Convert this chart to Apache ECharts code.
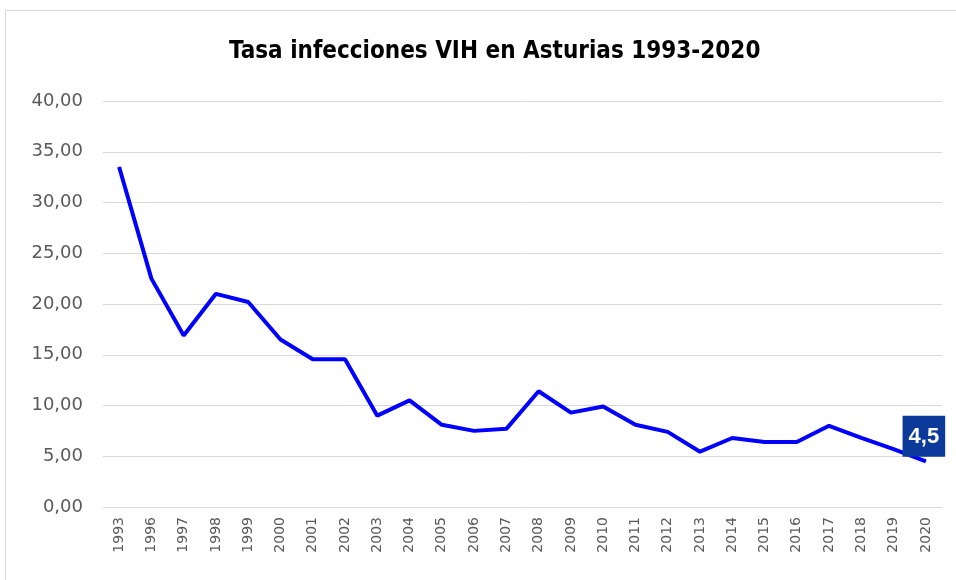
<!DOCTYPE html>
<html>
<head>
<meta charset="utf-8">
<script src="https://cdn.jsdelivr.net/npm/echarts@6/dist/echarts.min.js"></script>
<style>
  html, body { margin: 0; padding: 0; background: #fff; }
  #frame { position: absolute; left: 5px; top: 10px; width: 960px; height: 580px; border: 1px solid #d9d9d9; }
  #chart { position: absolute; left: 0; top: 0; width: 956px; height: 580px; }
</style>
</head>
<body>
<div id="frame"></div>
<div id="chart"></div>
<script>
const years = ["1993", "1996", "1997", "1998", "1999", "2000", "2001", "2002", "2003", "2004",
  "2005", "2006", "2007", "2008", "2009", "2010", "2011", "2012", "2013", "2014",
  "2015", "2016", "2017", "2018", "2019", "2020"];
const rates = [33.5, 22.5, 16.9, 21.0, 20.2, 16.5, 14.55, 14.55, 9.0, 10.5,
  8.1, 7.5, 7.7, 11.4, 9.3, 9.9, 8.1, 7.4, 5.45, 6.8,
  6.4, 6.4, 8.0, 6.8, 5.7, 4.5];
const lastLabel = "4,5";

const chart = echarts.init(document.getElementById("chart"));

chart.setOption({
  animation: false,
  title: {
    text: "Tasa infecciones VIH en Asturias 1993-2020",
    left: 224,
    top: 35,
    textStyle: { fontFamily: "'Liberation Sans Narrow', 'DejaVu Sans Condensed', 'Liberation Sans'", fontSize: 24, fontWeight: "bold", color: "#000" },
  },
  grid: { left: 103, right: 14, top: 101, bottom: 73 },
  xAxis: {
    type: "category",
    data: years,
    axisLine: { lineStyle: { color: "#d9d9d9" } },
    axisTick: { show: false },
    axisLabel: {
      rotate: 90,
      interval: 0,
      margin: 10,
      color: "#595959",
      fontFamily: "DejaVu Sans",
      fontSize: 14,
    },
  },
  yAxis: {
    type: "value",
    min: 0,
    max: 40,
    interval: 5,
    axisLine: { show: false },
    axisTick: { show: false },
    splitLine: { lineStyle: { color: "#d9d9d9" } },
    axisLabel: {
      margin: 20,
      color: "#595959",
      fontFamily: "DejaVu Sans",
      fontSize: 18,
      formatter: (v) => v.toFixed(2).replace(".", ","),
    },
  },
  series: [
    {
      type: "line",
      data: rates.map((v, i) => i === rates.length - 1
        ? {
            value: v,
            label: {
              show: true,
              position: "top",
              distance: 4,
              offset: [-2, 0],
              formatter: lastLabel,
              backgroundColor: "#0b3a9a",
              color: "#fff",
              fontFamily: "Liberation Sans",
              fontWeight: "bold",
              fontSize: 22,
              padding: [10, 6, 9, 6],
            },
          }
        : v),
      symbol: "circle",
      symbolSize: 1,
      showSymbol: true,
      itemStyle: { color: "#0000ff" },
      lineStyle: { color: "#0000ff", width: 4 },
    },
  ],
});
</script>
</body>
</html>
